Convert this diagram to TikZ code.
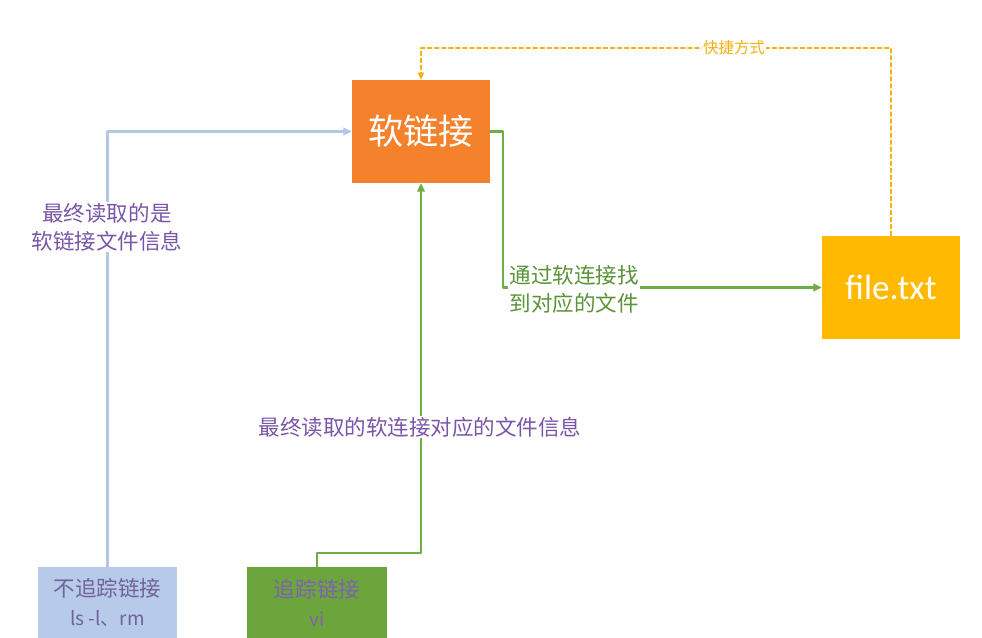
\documentclass[tikz,border=0pt]{standalone}
\usepackage{fontspec}
\setmainfont{Noto Sans CJK SC}
\newfontfamily\latinfont{Carlito}
\usetikzlibrary{arrows.meta}

\definecolor{softorange}{HTML}{F4812B}
\definecolor{filegold}{HTML}{FFB900}
\definecolor{nobox}{HTML}{B7CAE9}
\definecolor{trackbox}{HTML}{6CA53C}
\definecolor{blueline}{HTML}{B4C7E7}
\definecolor{greenline}{HTML}{70AD47}
\definecolor{dashgold}{HTML}{F2B10C}
\definecolor{labelpurple}{HTML}{7A56A8}
\definecolor{labelgreen}{HTML}{5B9338}
\definecolor{boxpurple}{HTML}{71639A}
\definecolor{trackpurple}{HTML}{7D62AE}

\begin{document}
\begin{tikzpicture}[x=0.025cm,y=-0.025cm,line cap=round,line join=round,
  box/.style={rectangle,inner sep=0pt,align=center},
  link/.style={line width=1.8pt,-{Triangle[length=6pt,width=5.5pt]}},
  tag/.style={fill=white,inner sep=1pt,align=center,font=\fontsize{15.3}{20}\selectfont}]
  \useasboundingbox[fill=white] (0,0) rectangle (982,638);
  % boxes
  \node[box,fill=softorange,text=white,minimum width=3.45cm,minimum height=2.575cm,
    font=\fontsize{25}{28}\selectfont] (soft) at (421,131.5) {软链接};
  \node[box,fill=filegold,text=white,minimum width=3.45cm,minimum height=2.575cm,
    font=\latinfont\fontsize{25}{28}\selectfont] (file) at (891,287.5) {file.txt};
  \node[box,fill=nobox,text=boxpurple,minimum width=3.475cm,minimum height=1.775cm,
    font=\fontsize{15.3}{20.5}\selectfont] (notrack) at (107.5,602.5) {不追踪链接\\{\fontsize{13.5}{20.5}\selectfont ls -l、rm}};
  \node[box,fill=trackbox,text=trackpurple,minimum width=3.475cm,minimum height=1.775cm,
    font=\fontsize{15.3}{20.5}\selectfont] (track) at (317,602.5) {追踪链接\\{\fontsize{13.5}{20.5}\selectfont vi}};
  % bends
  \coordinate (trackbend) at (317,553);
  \coordinate (softexit) at (503,131.5);
  \coordinate (dashtop) at (891,48);
  % connectors
  \draw[link,blueline] (notrack.north) |- (soft.west);
  \draw[link,greenline] (track.north) -- (trackbend) -| (soft.south);
  \draw[link,greenline] (soft.east) -- (softexit) |- (file.west);
  \draw[dashgold,line width=0.8pt,dash pattern=on 3pt off 2pt,-{Triangle[length=5pt,width=4.5pt]}]
    (file.north) -- (dashtop) -| (soft.north);
  % labels
  \node[tag,text=dashgold,font=\fontsize{11}{13}\selectfont] (shortcut) at (734,48) {快捷方式};
  \node[tag,text=labelpurple] (readsoft) at (107,227) {最终读取的是\\软链接文件信息};
  \node[tag,text=labelpurple] (readtarget) at (420,427) {最终读取的软连接对应的文件信息};
  \node[tag,text=labelgreen,anchor=west,align=left] (findfile) at (508,289) {通过软连接找\\到对应的文件};
\end{tikzpicture}
\end{document}
